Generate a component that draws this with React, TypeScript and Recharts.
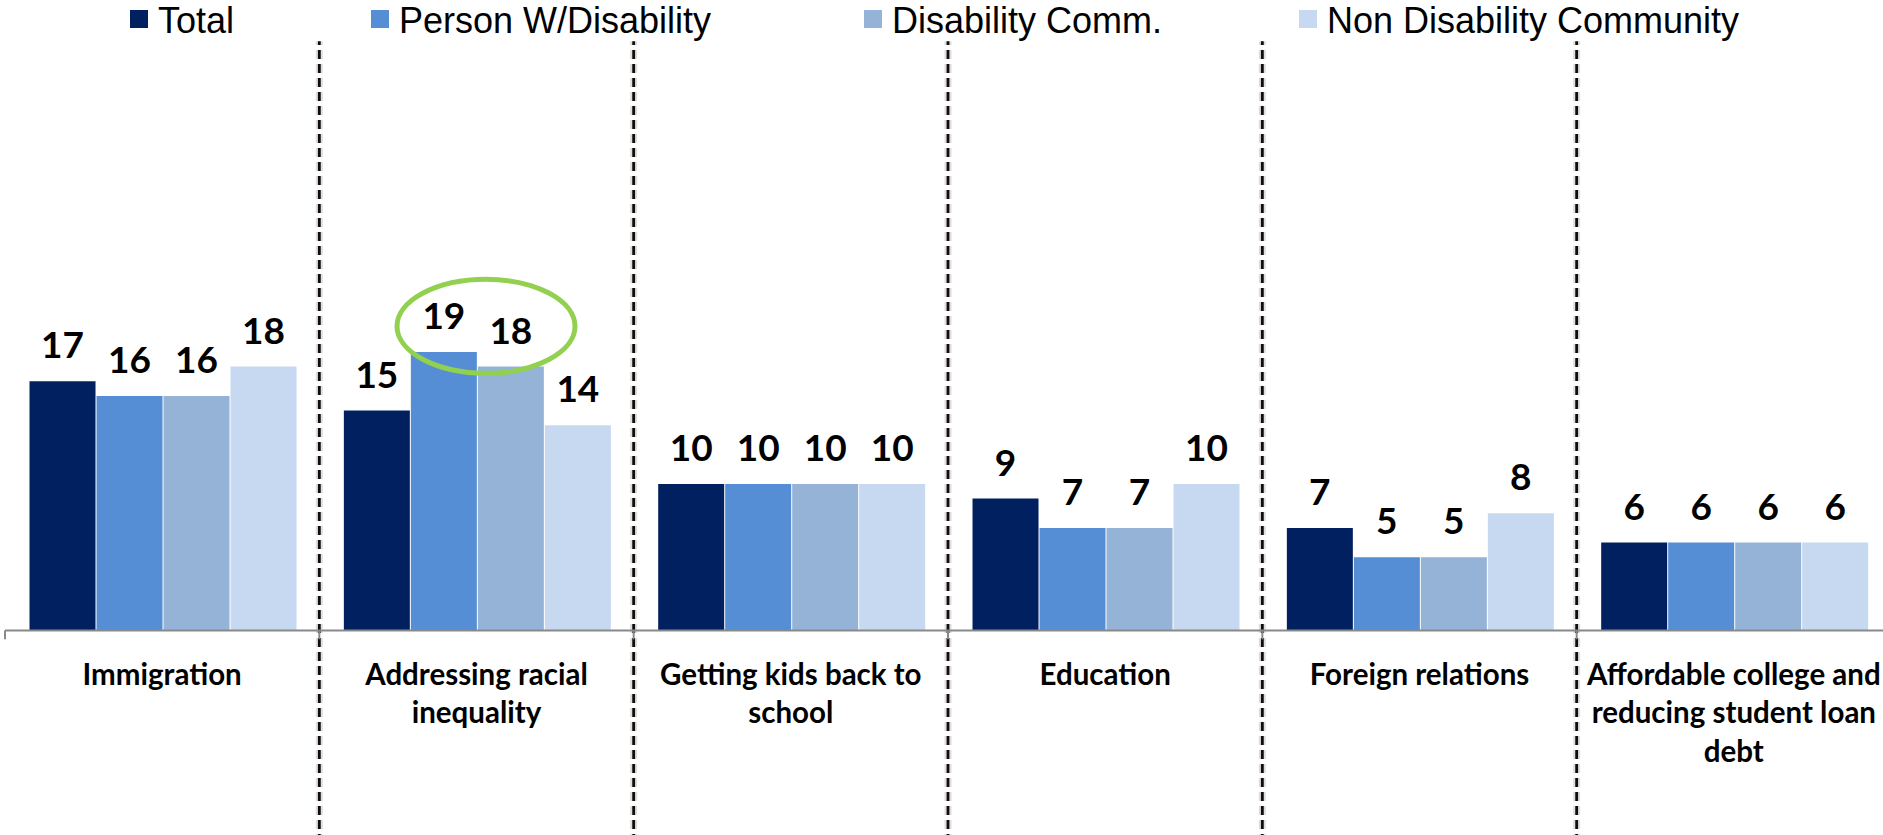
import React from "react";
import {
  BarChart,
  Bar,
  XAxis,
  YAxis,
  LabelList,
  ReferenceLine,
  ReferenceDot,
} from "recharts";

const CATEGORIES = [
  "Immigration",
  "Addressing racial\ninequality",
  "Getting kids back to\nschool",
  "Education",
  "Foreign relations",
  "Affordable college and\nreducing student loan\ndebt",
];
const TOTAL = [17, 15, 10, 9, 7, 6];
const PERSON_WD = [16, 19, 10, 7, 5, 6];
const DISABILITY_COMM = [16, 18, 10, 7, 5, 6];
const NON_DISABILITY = [18, 14, 10, 10, 8, 6];

const SERIES_KEYS = ["total", "pwd", "dc", "ndc"];
const SERIES_NAMES = ["Total", "Person W/Disability", "Disability Comm.", "Non Disability Community"];
const COLORS = ["#002060", "#558ED5", "#95B3D7", "#C6D9F1"];

// the circled pair sits in this group
const HIGHLIGHT_CATEGORY = CATEGORIES[1];

// legend text start x (px)
const LEGEND_X = [158, 399, 892, 1327];

const data = CATEGORIES.map((name, i) => ({
  name,
  total: TOTAL[i],
  pwd: PERSON_WD[i],
  dc: DISABILITY_COMM[i],
  ndc: NON_DISABILITY[i],
}));

function CategoryTick({ x, y, payload }: any) {
  const lines = String(payload.value).split("\n");
  return (
    <text
      x={x}
      y={y}
      textAnchor="middle"
      fontFamily="Lato, sans-serif"
      fontWeight={700}
      fontSize={29.5}
      fill="#000"
    >
      {lines.map((l, i) => (
        <tspan key={i} x={x} dy={i === 0 ? 54.5 : 38.3}>
          {l}
        </tspan>
      ))}
    </text>
  );
}

export default function App() {
  return (
    <div
      style={{
        position: "absolute",
        left: 0,
        top: 0,
        width: 1883,
        height: 835,
        overflow: "hidden",
        background: "#fff",
      }}
    >
      <BarChart
        width={1891}
        height={835}
        data={data}
        margin={{ top: 44.1, right: 0, bottom: 0, left: 5 }}
        barCategoryGap="7.8%"
        barGap={1}
      >
        <XAxis
          xAxisId="c"
          dataKey="name"
          axisLine={false}
          tickLine={false}
          tickSize={0}
          tickMargin={0}
          height={204.5}
          interval={0}
          tick={(p: any) => <CategoryTick {...p} />}
        />
        <YAxis hide domain={[0, 40]} allowDataOverflow />

        {/* dashed separators between groups, with a soft grey halo */}
        {CATEGORIES.slice(1).map((c) => (
          <ReferenceLine
            key={"h" + c}
            xAxisId="c"
            position="start"
            ifOverflow="visible"
            segment={[{ x: c, y: -14.5 }, { x: c, y: 40.2 }]}
            stroke="#c8c8c8"
            strokeOpacity={0.6}
            strokeWidth={7}
            strokeDasharray="9 5"
          />
        ))}
        {CATEGORIES.slice(1).map((c) => (
          <ReferenceLine
            key={"d" + c}
            xAxisId="c"
            position="start"
            ifOverflow="visible"
            segment={[{ x: c, y: -14.5 }, { x: c, y: 40.2 }]}
            stroke="#140c08"
            strokeWidth={2.8}
            strokeDasharray="9 5"
          />
        ))}

        {/* category axis line and boundary ticks */}
        <ReferenceLine xAxisId="c" y={0} stroke="#898989" strokeWidth={2} />
        {CATEGORIES.map((c) => (
          <ReferenceLine
            key={"t" + c}
            xAxisId="c"
            position="start"
            ifOverflow="visible"
            segment={[{ x: c, y: 0 }, { x: c, y: -0.6 }]}
            stroke="#898989"
            strokeWidth={2}
          />
        ))}

        {SERIES_KEYS.map((k, i) => (
          <Bar key={k} xAxisId="c" dataKey={k} name={SERIES_NAMES[i]} fill={COLORS[i]} isAnimationActive={false}>
            <LabelList
              dataKey={k}
              position="top"
              offset={23}
              fill="#000"
              fontSize={37}
              fontWeight={700}
              fontFamily="Lato, sans-serif"
            />
          </Bar>
        ))}

        <ReferenceDot
          xAxisId="c"
          x={HIGHLIGHT_CATEGORY}
          y={20.75}
          ifOverflow="visible"
          shape={(p: any) => (
            <ellipse cx={p.cx + 9.5} cy={p.cy} rx={89} ry={47} fill="none" stroke="#92D050" strokeWidth={5} />
          )}
        />
      </BarChart>

      <div
        style={{
          position: "absolute",
          left: 0,
          top: 0,
          width: 1883,
          height: 44,
          fontFamily: '"Liberation Sans", Arial, sans-serif',
          fontSize: 36,
          color: "#000",
        }}
      >
        {SERIES_NAMES.map((n, i) => (
          <React.Fragment key={n}>
            <span
              style={{
                position: "absolute",
                left: LEGEND_X[i] - 28,
                top: 10,
                width: 18,
                height: 18,
                background: COLORS[i],
              }}
            />
            <span
              style={{
                position: "absolute",
                left: LEGEND_X[i],
                top: 2.5,
                lineHeight: "36px",
                whiteSpace: "nowrap",
              }}
            >
              {n}
            </span>
          </React.Fragment>
        ))}
      </div>
    </div>
  );
}
